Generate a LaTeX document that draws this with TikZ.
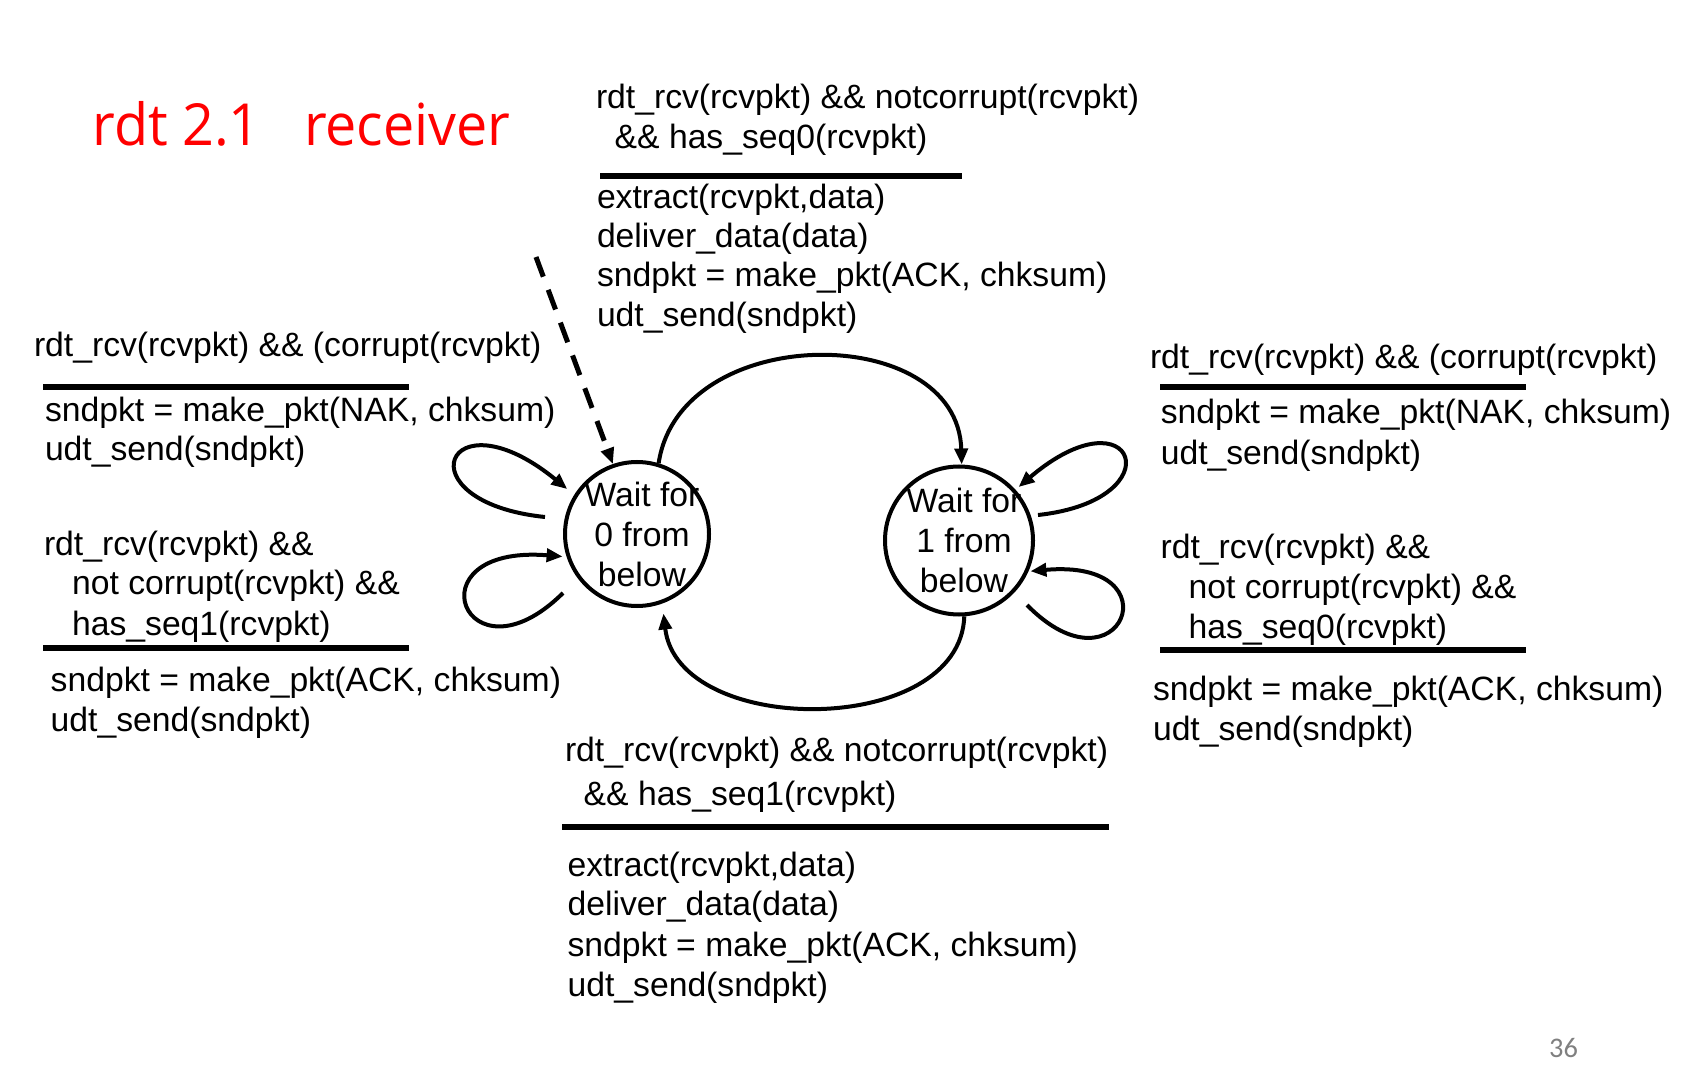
\documentclass[tikz,border=0pt]{standalone}
\usepackage{fontspec}
\setmainfont{Liberation Sans}
\newfontfamily\titlefont[FakeStretch=0.96]{Open Sans}
\newfontfamily\numfont{Carlito}
\usetikzlibrary{arrows.meta}
\definecolor{titlered}{RGB}{255,0,0}
\definecolor{pagegray}{RGB}{128,128,128}
\begin{document}
\begin{tikzpicture}[x=0.5pt,y=-0.5pt,
  lbl/.style={anchor=base west, inner sep=0pt, outer sep=0pt, font=\fontsize{16.85}{20}\selectfont},
  rulebar/.style={line width=3pt},
  state/.style={circle, draw, line width=2pt, inner sep=0pt},
  statetext/.style={align=center, inner sep=0pt, xshift=2.5pt, font=\fontsize{16.85}{20}\selectfont},
  trans/.style={line width=2pt, -{Triangle[length=8pt,width=6.5pt]}},
  initarrow/.style={line width=2.5pt, dash pattern=on 10.5pt off 7pt, -{Triangle[length=8pt,width=6.5pt]}},
  ]
\useasboundingbox (0,0) rectangle (1691,1090);
\fill[white] (0,0) rectangle (1691,1090);

% title
\node[anchor=base west, inner sep=0pt, text=titlered, font=\titlefont\fontsize{29}{34}\selectfont] (title) at (92,145.7) {rdt 2.1~~~receiver};

% states
\node[state, minimum size=72pt, label={[statetext]center:{Wait for\\0 from\\below}}] (c0) at (637,534) {};
\node[state, minimum size=74pt, label={[statetext]center:{Wait for\\1 from\\below}}] (c1) at (959,540.5) {};

% initial dashed arrow
\coordinate (init) at (536,257);
\draw[initarrow] (init) -- (c0.109);

% top transition 0 -> 1
\draw[trans] (c0.73) .. controls (680,321) and (958,321) .. (c1.88);
% bottom transition 1 -> 0
\draw[trans, shorten >=5pt] (c1.-86) .. controls (960,738) and (678,738) .. (c0.-70);

% self loops on c0
\coordinate (l0a) at (545,517);
\draw[trans, shorten >=4.5pt] (l0a) .. controls (400,502) and (446,390) .. (c0.148);
\coordinate (l0b) at (563,593);
\draw[trans, shorten >=2pt] (l0b) .. controls (465,690) and (408,544) .. (c0.198);

% self loops on c1
\coordinate (l1a) at (1038,515);
\draw[trans, shorten >=2pt] (l1a) .. controls (1176,500) and (1135,388) .. (c1.42);
\coordinate (l1b) at (1027,605);
\draw[trans, shorten >=1pt] (l1b) .. controls (1120,700) and (1178,558) .. (c1.-24);

% top block
\node[lbl] (ta1) at (596,108.3) {rdt\_rcv(rcvpkt) \&\& notcorrupt(rcvpkt)};
\node[lbl] (ta2) at (596,148.3) {~~\&\& has\_seq0(rcvpkt)};
\draw[rulebar] (600,176) -- (961.5,176);
\node[lbl] (tb1) at (597,208.3) {extract(rcvpkt,data)};
\node[lbl] (tb2) at (597,247.3) {deliver\_data(data)};
\node[lbl] (tb3) at (597,286.7) {sndpkt = make\_pkt(ACK, chksum)};
\node[lbl] (tb4) at (597,326.3) {udt\_send(sndpkt)};

% left upper block
\node[lbl] (la1) at (34,356.7) {rdt\_rcv(rcvpkt) \&\& (corrupt(rcvpkt)};
\draw[rulebar] (43,386.7) -- (408.7,386.7);
\node[lbl] (lb1) at (45,421.7) {sndpkt = make\_pkt(NAK, chksum)};
\node[lbl] (lb2) at (45,460.5) {udt\_send(sndpkt)};

% left lower block
\node[lbl] (lc1) at (44,555) {rdt\_rcv(rcvpkt) \&\&};
\node[lbl] (lc2) at (44,595) {~~~not corrupt(rcvpkt) \&\&};
\node[lbl] (lc3) at (44,635) {~~~has\_seq1(rcvpkt)};
\draw[rulebar] (43,647.7) -- (408.7,647.7);
\node[lbl] (ld1) at (50.7,691.7) {sndpkt = make\_pkt(ACK, chksum)};
\node[lbl] (ld2) at (50.7,731.7) {udt\_send(sndpkt)};

% right upper block
\node[lbl] (ra1) at (1150,368.3) {rdt\_rcv(rcvpkt) \&\& (corrupt(rcvpkt)};
\draw[rulebar] (1160,386.7) -- (1525.5,386.7);
\node[lbl] (rb1) at (1160.8,424) {sndpkt = make\_pkt(NAK, chksum)};
\node[lbl] (rb2) at (1160.8,465) {udt\_send(sndpkt)};

% right lower block
\node[lbl] (rc1) at (1160.6,558.3) {rdt\_rcv(rcvpkt) \&\&};
\node[lbl] (rc2) at (1160.6,598.3) {~~~not corrupt(rcvpkt) \&\&};
\node[lbl] (rc3) at (1160.6,638.3) {~~~has\_seq0(rcvpkt)};
\draw[rulebar] (1160,650) -- (1525.5,650);
\node[lbl] (rd1) at (1153,700) {sndpkt = make\_pkt(ACK, chksum)};
\node[lbl] (rd2) at (1153,740) {udt\_send(sndpkt)};

% bottom block
\node[lbl] (ba1) at (565,761.7) {rdt\_rcv(rcvpkt) \&\& notcorrupt(rcvpkt)};
\node[lbl] (ba2) at (565,805) {~~\&\& has\_seq1(rcvpkt)};
\draw[rulebar] (562,826.7) -- (1108.7,826.7);
\node[lbl] (bb1) at (567.6,876.7) {extract(rcvpkt,data)};
\node[lbl] (bb2) at (567.6,915.5) {deliver\_data(data)};
\node[lbl] (bb3) at (567.6,956.7) {sndpkt = make\_pkt(ACK, chksum)};
\node[lbl] (bb4) at (567.6,996.7) {udt\_send(sndpkt)};

% page number
\node[anchor=base, inner sep=0pt, text=pagegray, font=\numfont\fontsize{14.2}{17}\selectfont] (pnum) at (1563.5,1057) {36};
\end{tikzpicture}
\end{document}
